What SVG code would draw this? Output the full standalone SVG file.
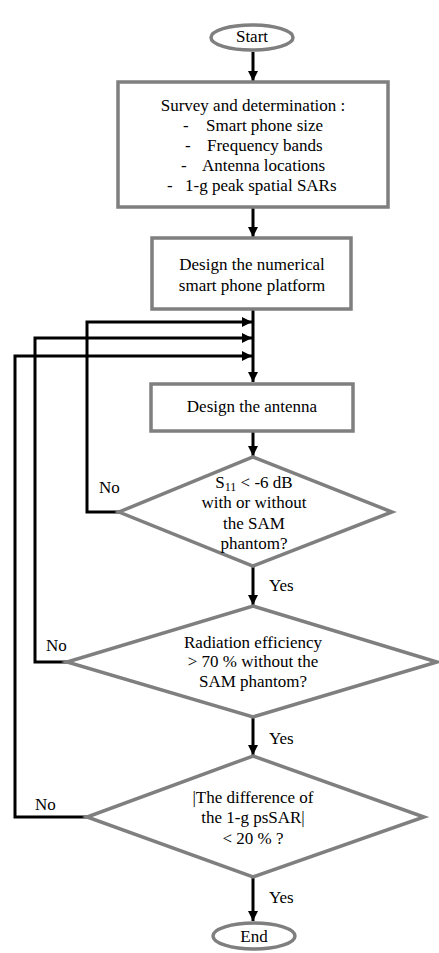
<svg xmlns="http://www.w3.org/2000/svg" width="439" height="953" viewBox="0 0 439 953">
<defs>
<marker id="ah" viewBox="0 0 10 10" refX="10" refY="5" markerWidth="10" markerHeight="10" markerUnits="userSpaceOnUse" orient="auto">
<path d="M0,0 L10,5 L0,10 z" fill="#000"/>
</marker>
<style>
.node{fill:#fff;stroke:#7f7f7f;stroke-width:3.5}
.t{font-family:"Liberation Serif","Times New Roman",serif;font-size:17px;fill:#000}
.c{text-anchor:middle}
.ln{fill:none;stroke:#000;stroke-width:3}
</style>
</defs>
<rect width="439" height="953" fill="#fff"/>
<g id="connectors">
<line class="ln" x1="253" y1="52" x2="253" y2="81" marker-end="url(#ah)"/>
<line class="ln" x1="253" y1="208" x2="253" y2="237" marker-end="url(#ah)"/>
<line class="ln" x1="253" y1="310" x2="253" y2="382" marker-end="url(#ah)"/>
<polyline class="ln" points="119,512 87,512 87,322 252,322" marker-end="url(#ah)"/>
<polyline class="ln" points="67,662 35,662 35,338 252,338" marker-end="url(#ah)"/>
<polyline class="ln" points="87,817 15,817 15,356 252,356" marker-end="url(#ah)"/>
<line class="ln" x1="253" y1="431" x2="253" y2="456" marker-end="url(#ah)"/>
<line class="ln" x1="253" y1="566" x2="253" y2="605" marker-end="url(#ah)"/>
<line class="ln" x1="253" y1="717" x2="253" y2="755" marker-end="url(#ah)"/>
<line class="ln" x1="253" y1="877" x2="253" y2="921" marker-end="url(#ah)"/>
<text class="t" x="99" y="493">No</text>
<text class="t" x="46" y="651">No</text>
<text class="t" x="35" y="810">No</text>
<text class="t" x="269" y="591">Yes</text>
<text class="t" x="269" y="744">Yes</text>
<text class="t" x="269" y="903">Yes</text>
</g>
<g id="start">
<ellipse class="node" cx="252" cy="37.5" rx="41" ry="12.5"/>
<text class="t c" x="252" y="42">Start</text>
</g>
<g id="survey">
<rect class="node" x="118" y="82" width="270" height="125"/>
<text class="t c" x="253" y="111">Survey and determination :</text>
<text class="t" x="183" y="131">-</text><text class="t" x="206" y="131">Smart phone size</text>
<text class="t" x="185" y="151">-</text><text class="t" x="207" y="151">Frequency bands</text>
<text class="t" x="181" y="171">-</text><text class="t" x="202" y="171">Antenna locations</text>
<text class="t" x="167" y="191">-</text><text class="t" x="185" y="191">1-g peak spatial SARs</text>
</g>
<g id="platform">
<rect class="node" x="152" y="238" width="199" height="71"/>
<text class="t c" x="252" y="270">Design the numerical</text>
<text class="t c" x="252" y="291">smart phone platform</text>
</g>
<g id="antenna">
<rect class="node" x="151" y="384" width="202" height="47"/>
<text class="t c" x="252" y="412">Design the antenna</text>
</g>
<g id="d1">
<polygon class="node" points="253,457 392,512 253,566 119,512"/>
<text class="t c" x="254" y="488">S<tspan font-size="12" dy="3">11</tspan><tspan dy="-3"> &lt; -6 dB</tspan></text>
<text class="t c" x="254" y="508">with or without</text>
<text class="t c" x="254" y="529">the SAM</text>
<text class="t c" x="254" y="549">phantom?</text>
</g>
<g id="d2">
<polygon class="node" points="253,606 437,662 253,717 67,662"/>
<text class="t c" x="253" y="648">Radiation efficiency</text>
<text class="t c" x="253" y="667">&gt; 70 % without the</text>
<text class="t c" x="253" y="687">SAM phantom?</text>
</g>
<g id="d3">
<polygon class="node" points="253,756 424,817 253,877 87,817"/>
<text class="t c" x="253" y="803">|The difference of</text>
<text class="t c" x="253" y="823">the 1-g psSAR|</text>
<text class="t c" x="253" y="844">&lt; 20 % ?</text>
</g>
<g id="end">
<ellipse class="node" cx="254" cy="936" rx="41" ry="13"/>
<text class="t c" x="254" y="942">End</text>
</g>
</svg>
